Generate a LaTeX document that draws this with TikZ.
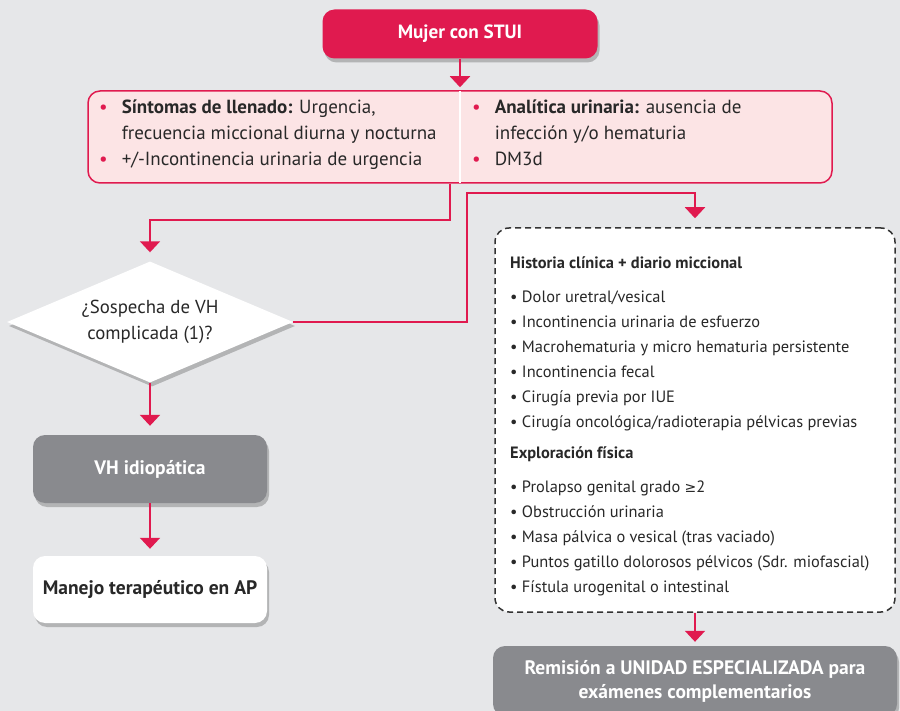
\documentclass[tikz,border=0pt]{standalone}
\usepackage{fontspec}
\setmainfont{PT Sans}
\newfontfamily\symfont{DejaVu Sans}
\usepackage{xcolor}
\usepackage{tikz}
\usetikzlibrary{positioning}
\usetikzlibrary{arrows.meta}
\usetikzlibrary{shapes.geometric}
\usetikzlibrary{shadows}
\pgfdeclarelayer{nodelayer}
\pgfdeclarelayer{edgelayer}
\pgfsetlayers{nodelayer,edgelayer,main}
\definecolor{crimson}{RGB}{224,26,79}
\definecolor{pinkfill}{RGB}{252,228,229}
\definecolor{greyfill}{RGB}{137,138,142}
\definecolor{bgcol}{RGB}{230,231,233}
\definecolor{textdark}{RGB}{40,40,40}
\definecolor{dashcol}{RGB}{51,51,51}

\begin{document}
\begin{tikzpicture}[x=1pt, y=-1pt,
  softshadow/.style={drop shadow={shadow xshift=2pt, shadow yshift=-4pt, opacity=0.22, fill=black}},
  redbox/.style={rectangle, rounded corners=12pt, fill=crimson, text=white, font=\fontsize{19.2}{22}\selectfont\bfseries, minimum width=275pt, minimum height=49pt, softshadow},
  pinkbox/.style={rectangle, rounded corners=12pt, draw=crimson, line width=1.5pt, fill=pinkfill, minimum width=744pt, minimum height=92pt},
  greybox/.style={rectangle, rounded corners=12pt, fill=greyfill, text=white, font=\fontsize{19.5}{24}\selectfont\bfseries, align=center, softshadow},
  whitebox/.style={rectangle, rounded corners=12pt, fill=white, text=textdark, font=\fontsize{19.5}{24}\selectfont\bfseries, align=center, softshadow},
  dashbox/.style={rectangle, rounded corners=14pt, draw=dashcol, line width=1.5pt, dash pattern=on 6pt off 4pt, fill=white, minimum width=400pt, minimum height=384pt},
  question/.style={diamond, aspect=2.36, fill=white, minimum width=286pt, minimum height=121pt, inner sep=0pt, align=center, text=textdark, font=\fontsize{18.8}{26}\selectfont, softshadow},
  coltext/.style={inner sep=0pt, text=textdark, font=\fontsize{19}{26}\selectfont},
  listtext/.style={inner sep=0pt, align=left, text=textdark, font=\fontsize{16.4}{25}\selectfont},
  flow/.style={draw=crimson, line width=2pt, -{Triangle[width=20pt,length=11pt]}, shorten >=9pt}]
  \begin{pgfonlayer}{nodelayer}
    \fill [bgcol] (0, 0) rectangle (900, 711);
    \useasboundingbox (0, 0) rectangle (900, 711);
    \node [redbox] (0) at (460, 34) {Mujer con STUI};
    \node [pinkbox] (1) at (460, 137) {};
    \node [coltext, anchor=west] (2) at (99, 134) {\begin{tabular}{@{}c@{\hspace{14pt}}l@{}}
      \textcolor{crimson}{•} & \textbf{Síntomas de llenado:} Urgencia,\\
      & frecuencia miccional diurna y nocturna\\
      \textcolor{crimson}{•} & +/-Incontinencia urinaria de urgencia
    \end{tabular}};
    \node [coltext, anchor=west] (3) at (472, 134) {\begin{tabular}{@{}c@{\hspace{14pt}}l@{}}
      \textcolor{crimson}{•} & \textbf{Analítica urinaria:} ausencia de\\
      & infección y/o hematuria\\
      \textcolor{crimson}{•} & DM3d
    \end{tabular}};
    \node [question] (4) at (150, 322) {¿Sospecha de VH\\complicada (1)?};
    \node [dashbox] (5) at (695, 420) {};
    \node [greybox, minimum width=404pt, minimum height=70pt] (6) at (695, 681) {Remisión a UNIDAD ESPECIALIZADA para\\exámenes complementarios};
    \node [greybox, minimum width=234pt, minimum height=68pt] (7) at (150, 469) {VH idiopática};
    \node [whitebox, minimum width=234pt, minimum height=67pt] (8) at (150, 589.5) {Manejo terapéutico en AP};
    \node [listtext, anchor=north west] (9) at (510, 256) {\textbf{Historia clínica + diario miccional}\\[9pt]
      •\ Dolor uretral/vesical\\
      •\ Incontinencia urinaria de esfuerzo\\
      •\ Macrohematuria y micro hematuria persistente\\
      •\ Incontinencia fecal\\
      •\ Cirugía previa por IUE\\
      •\ Cirugía oncológica/radioterapia pélvicas previas\\[6pt]
      \textbf{Exploración física}\\[9pt]
      •\ Prolapso genital grado {\symfont\fontsize{14}{25}\selectfont ≥}2\\
      •\ Obstrucción urinaria\\
      •\ Masa pálvica o vesical (tras vaciado)\\
      •\ Puntos gatillo dolorosos pélvicos (Sdr. miofascial)\\
      •\ Fístula urogenital o intestinal};
    \coordinate (10) at (450, 220);
    \coordinate (11) at (467, 193);
  \end{pgfonlayer}
  \begin{pgfonlayer}{edgelayer}
    \draw [white, line width=2pt, shorten <=1pt, shorten >=1pt] (1.north) to (1.south);
    \draw [flow, shorten >=3pt] (0) to (1);
    \draw [flow] (10 |- 1.south) to (10) -| (4.north);
    \draw [flow] (4.east) -| (11) -| (5.north);
    \draw [flow] (4) to (7);
    \draw [flow, shorten >=7pt] (7) to (8);
    \draw [flow, shorten >=4pt] (5) to (6);
  \end{pgfonlayer}
\end{tikzpicture}
\end{document}
